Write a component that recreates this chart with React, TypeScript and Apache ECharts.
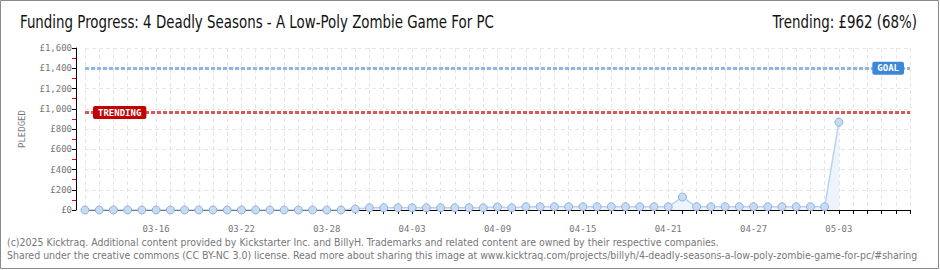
import React, { useEffect, useRef } from "react";
import * as echarts from "echarts";

const titleText = "Funding Progress: 4 Deadly Seasons - A Low-Poly Zombie Game For PC";
const trendingText = "Trending: £962 (68%)";
const footerLines = [
  "(c)2025 Kicktraq. Additional content provided by Kickstarter Inc. and BillyH. Trademarks and related content are owned by their respective companies.",
  "Shared under the creative commons (CC BY-NC 3.0) license. Read more about sharing this image at www.kicktraq.com/projects/billyh/4-deadly-seasons-a-low-poly-zombie-game-for-pc/#sharing",
];

const dates = [
  "03-11", "03-12", "03-13", "03-14", "03-15", "03-16", "03-17", "03-18", "03-19", "03-20",
  "03-21", "03-22", "03-23", "03-24", "03-25", "03-26", "03-27", "03-28", "03-29", "03-30",
  "03-31", "04-01", "04-02", "04-03", "04-04", "04-05", "04-06", "04-07", "04-08", "04-09",
  "04-10", "04-11", "04-12", "04-13", "04-14", "04-15", "04-16", "04-17", "04-18", "04-19",
  "04-20", "04-21", "04-22", "04-23", "04-24", "04-25", "04-26", "04-27", "04-28", "04-29",
  "04-30", "05-01", "05-02", "05-03", "05-04", "05-05", "05-06", "05-07", "05-08",
];

const pledged = [
  0, 0, 0, 0, 0, 0, 0, 0, 0, 0,
  0, 0, 0, 0, 0, 0, 0, 0, 0, 10,
  22, 22, 22, 22, 22, 22, 22, 22, 22, 30,
  22, 32, 32, 32, 32, 32, 32, 32, 32, 32,
  32, 32, 128, 32, 32, 32, 32, 32, 32, 32,
  32, 32, 32, 868,
];

const goal = 1400;
const trending = 962;
const yMax = 1600;
const yInterval = 200;

const mono = "'DejaVu Sans Mono', monospace";
const cond = "'DejaVu Sans Condensed', 'DejaVu Sans', sans-serif";

export default function App() {
  const ref = useRef<HTMLDivElement>(null);
  useEffect(() => {
    if (!ref.current) return;
    const chart = echarts.init(ref.current, undefined, { renderer: "svg" });
    chart.setOption({
      animation: false,
      backgroundColor: "#ffffff",
      grid: { left: 85, right: 30, top: 48, bottom: 60, containLabel: false },
      xAxis: {
        type: "category",
        boundaryGap: false,
        data: dates,
        offset: 10,
        axisLine: { lineStyle: { color: "#000", width: 1 } },
        axisTick: { show: true, interval: 0, length: 4, lineStyle: { color: "#000" } },
        axisLabel: {
          interval: (i: number) => i % 6 === 5,
          color: "#777",
          fontFamily: mono,
          fontSize: 9,
          margin: 4,
        },
        splitLine: { show: true, interval: 0, lineStyle: { color: "#e6e6e6", type: [4, 3] } },
      },
      yAxis: {
        type: "value",
        min: 0,
        max: yMax,
        interval: yInterval,
        offset: 9,
        name: "PLEDGED",
        nameLocation: "middle",
        nameGap: 50,
        nameRotate: 90,
        nameTextStyle: { color: "#777", fontFamily: mono, fontSize: 9 },
        axisLine: { show: true, lineStyle: { color: "#000", width: 1 } },
        axisTick: { show: true, length: 4, lineStyle: { color: "#000" } },
        minorTick: { show: true, splitNumber: 2, length: 4, lineStyle: { color: "#e00000" } },
        axisLabel: {
          color: "#777",
          fontFamily: mono,
          fontSize: 9,
          margin: 4,
          formatter: (v: number) => "£" + v.toLocaleString("en-US"),
        },
        splitLine: { show: true, lineStyle: { color: "#e6e6e6", type: [4, 3] } },
      },
      series: [
        {
          type: "line",
          data: pledged,
          symbol: "circle",
          symbolSize: 8,
          itemStyle: { color: "#c6dcf6", borderColor: "#98b0cf", borderWidth: 1 },
          lineStyle: { color: "#b8d3f0", width: 1.5 },
          areaStyle: { color: "#edf4fd", opacity: 1 },
          markLine: {
            silent: true,
            symbol: ["none", "none"],
            data: [
              {
                yAxis: goal,
                lineStyle: { color: "#8db7e6", type: [4, 2], width: 3 },
                label: {
                  show: true,
                  position: "insideEnd",
                  distance: 6,
                  formatter: "GOAL",
                  color: "#fff",
                  backgroundColor: "#3b87d9",
                  padding: [2, 5, 2, 5],
                  borderRadius: 2,
                  fontFamily: mono,
                  fontSize: 9,
                  fontWeight: "bold",
                },
              },
              {
                yAxis: trending,
                lineStyle: { color: "#d45a5a", type: [4, 2], width: 3 },
                label: {
                  show: true,
                  position: "insideStart",
                  distance: 8,
                  formatter: "TRENDING",
                  color: "#fff",
                  backgroundColor: "#c20000",
                  padding: [2, 5, 2, 5],
                  borderRadius: 2,
                  fontFamily: mono,
                  fontSize: 9,
                  fontWeight: "bold",
                },
              },
            ],
          },
        },
      ],
      graphic: [
        {
          type: "rect",
          shape: { x: 0.5, y: 0.5, width: 938, height: 268 },
          style: { fill: "none", stroke: "#8a8a8a", lineWidth: 1 },
          silent: true,
        },
        {
          type: "text",
          x: 20,
          y: 14,
          scaleX: 0.876,
          style: { text: titleText, fill: "#111", font: `17px ${cond}`, textAlign: "left", textVerticalAlign: "top" },
        },
        {
          type: "text",
          x: 917,
          y: 14,
          scaleX: 0.876,
          style: { text: trendingText, fill: "#111", font: `17px ${cond}`, textAlign: "right", textVerticalAlign: "top" },
        },
        {
          type: "text",
          x: 7,
          y: 237,
          scaleX: 1.048,
          style: { text: footerLines[0], fill: "#777", font: `10px ${cond}`, textAlign: "left", textVerticalAlign: "top" },
        },
        {
          type: "text",
          x: 7,
          y: 250,
          scaleX: 1.048,
          style: { text: footerLines[1], fill: "#777", font: `10px ${cond}`, textAlign: "left", textVerticalAlign: "top" },
        },
      ],
    });
    return () => chart.dispose();
  }, []);
  return (
    <div
      ref={ref}
      style={{ position: "fixed", left: 0, top: 0, width: 940, height: 270, background: "#fff" }}
    />
  );
}
